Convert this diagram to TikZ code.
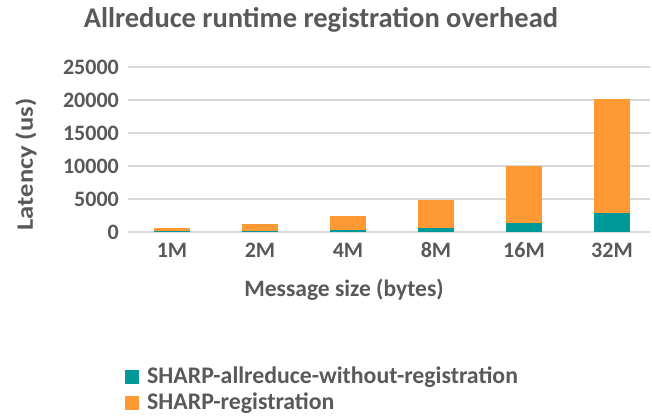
\documentclass[tikz,border=0pt]{standalone}
\usepackage{fontspec}
\setmainfont{Carlito}
\definecolor{txt}{HTML}{595959}
\definecolor{gridc}{HTML}{D9D9D9}
\definecolor{teal1}{HTML}{009999}
\definecolor{orng}{HTML}{FF9933}
\begin{document}
\begin{tikzpicture}[x=1pt,y=1pt,
  lbl/.style={text=txt,font=\bfseries,inner sep=0pt},
  ticklbl/.style={lbl,font=\fontsize{22}{26}\selectfont\bfseries},
  axlbl/.style={lbl,font=\fontsize{23.5}{28}\selectfont\bfseries},
  leglbl/.style={lbl,font=\fontsize{23.8}{28}\selectfont\bfseries},
  gridln/.style={draw=gridc,line width=1.5pt},
  barA/.style={fill=teal1,draw=none},
  barB/.style={fill=orng,draw=none}]
\useasboundingbox[fill=white] (0,0) rectangle (652,417);
% value in thousands -> y : 185 + v*6.6
\foreach \v/\t/\n in {0/0/g0,5/5000/g1,10/10000/g2,15/15000/g3,20/20000/g4,25/25000/g5}{
  \coordinate (\n L) at (128,{185+\v*6.6});
  \coordinate (\n R) at (650,{185+\v*6.6});
  \draw[gridln] (\n L) -- (\n R);
  \node[ticklbl,anchor=east] (\n t) at (119,{185+\v*6.6}) {\t};
}
% bars: center / teal / total (thousands) / label
\foreach \c/\a/\b/\l/\n in {172/0.09/0.65/1M/b1,260/0.15/1.2/2M/b2,348/0.3/2.4/4M/b3,436/0.6/4.85/8M/b4,524/1.38/10/16M/b5,612/2.88/20.15/32M/b6}{
  \fill[barB] ({\c-18},185) rectangle ({\c+18},{185+\b*6.6});
  \fill[barA] ({\c-18},185) rectangle ({\c+18},{185+\a*6.6});
  \node[ticklbl] (\n) at (\c,167) {\l};
}
\node[lbl,font=\fontsize{28.5}{32}\selectfont\bfseries] (title) at (321,397) {Allreduce runtime registration overhead};
\node[axlbl,rotate=90] (ylab) at (26,252.5) {\scalebox{1.13}[1]{Latency (us)}};
\node[axlbl] (xlab) at (344,127) {Message size (bytes)};
\node[barA,minimum size=14pt,inner sep=0pt] (k1) at (132,40) {};
\node[leglbl,anchor=west] (l1) at (147,40) {SHARP-allreduce-without-registration};
\node[barB,minimum size=14pt,inner sep=0pt] (k2) at (132,14) {};
\node[leglbl,anchor=west] (l2) at (147,14) {SHARP-registration};
\end{tikzpicture}
\end{document}
